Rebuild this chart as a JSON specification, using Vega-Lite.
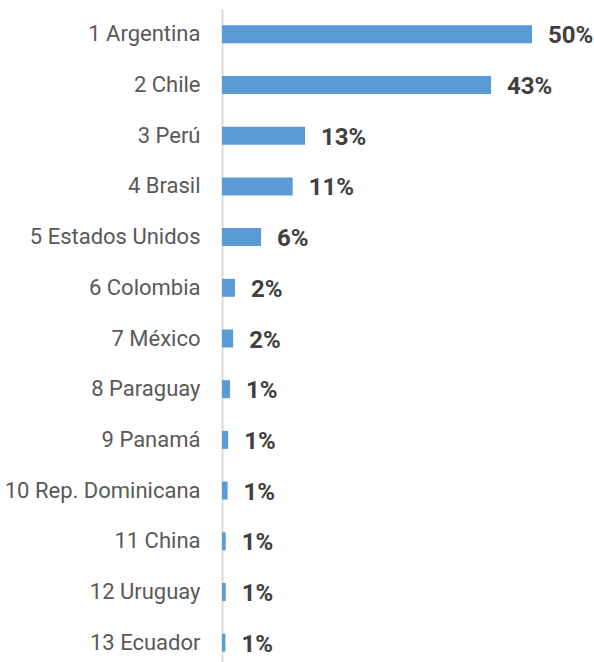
{
  "$schema": "https://vega.github.io/schema/vega-lite/v6.json",
  "autosize": {"type": "none"},
  "width": 310,
  "height": 659,
  "padding": {"left": 222, "top": 9, "right": 62, "bottom": 0},
  "background": "white",
  "config": {"view": {"stroke": null}, "font": "Roboto"},
  "data": {
    "values": [
      {"pais": "1 Argentina", "valor": 0.500},
      {"pais": "2 Chile", "valor": 0.434},
      {"pais": "3 Perú", "valor": 0.134},
      {"pais": "4 Brasil", "valor": 0.114},
      {"pais": "5 Estados Unidos", "valor": 0.063},
      {"pais": "6 Colombia", "valor": 0.021},
      {"pais": "7 México", "valor": 0.018},
      {"pais": "8 Paraguay", "valor": 0.013},
      {"pais": "9 Panamá", "valor": 0.010},
      {"pais": "10 Rep. Dominicana", "valor": 0.009},
      {"pais": "11 China", "valor": 0.006},
      {"pais": "12 Uruguay", "valor": 0.006},
      {"pais": "13 Ecuador", "valor": 0.0055}
    ]
  },
  "encoding": {
    "y": {
      "field": "pais",
      "type": "nominal",
      "sort": null,
      "scale": {"paddingInner": 0.645, "paddingOuter": 0.3225},
      "axis": {
        "title": null,
        "ticks": false,
        "labelFont": "Roboto",
        "labelFontSize": 22,
        "labelColor": "#595959",
        "labelPadding": 22,
        "labelLimit": 300,
        "domainColor": "#d9d9d9",
        "domainWidth": 2
      }
    },
    "x": {
      "field": "valor",
      "type": "quantitative",
      "scale": {"domain": [0, 0.5], "nice": false},
      "axis": null
    }
  },
  "layer": [
    {"mark": {"type": "bar", "color": "#5b9bd5"}},
    {
      "mark": {
        "type": "text",
        "align": "left",
        "baseline": "middle",
        "dx": 16,
        "dy": 2,
        "font": "Roboto",
        "fontSize": 24,
        "fontWeight": "bold",
        "color": "#404040"
      },
      "encoding": {"text": {"field": "valor", "type": "quantitative", "format": ".0%"}}
    }
  ]
}
